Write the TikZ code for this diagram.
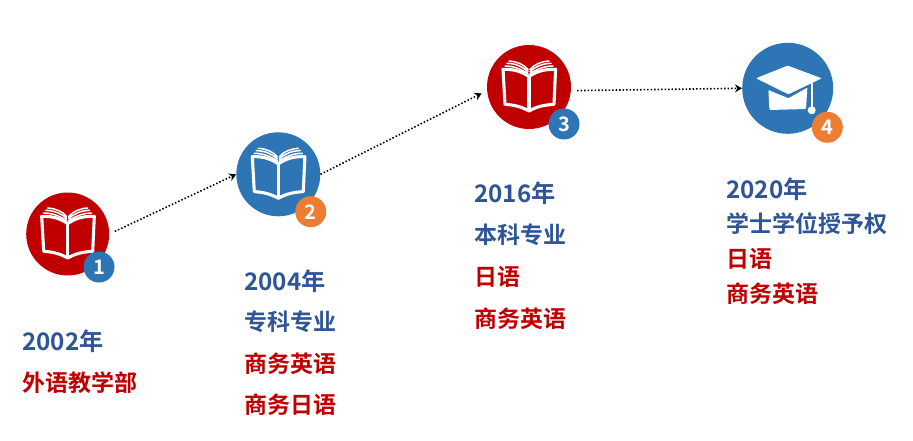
\documentclass[tikz,border=0pt]{standalone}
\usepackage{fontspec}
\setmainfont{Noto Sans CJK SC}[BoldFont={* Bold}]
\usetikzlibrary{arrows.meta}
\definecolor{stepblue}{HTML}{2E75B6}
\definecolor{stepred}{HTML}{C00000}
\definecolor{steporange}{HTML}{ED7D31}
\definecolor{yearblue}{HTML}{2F5597}
\tikzset{
  stepcircle/.style={circle,inner sep=0pt,minimum size=#1},
  badge/.style={circle,inner sep=0pt,minimum size=31pt,text=white,font=\fontsize{20}{20}\selectfont\bfseries},
  blueline/.style={anchor=west,inner sep=0pt,text=yearblue,font=\fontsize{23}{23}\selectfont\bfseries},
  yearline/.style={blueline,font=\fontsize{24.2}{24}\selectfont\bfseries},
  redline/.style={blueline,text=stepred},
  flow/.style={line width=1.6pt,dash pattern=on 1.5pt off 2pt,-{Stealth[length=7pt,width=8pt]}},
  bookicon/.pic={
    \draw[white,line width=3.1pt,line join=round]
      (-26,-17.7) .. controls (-14,-18) and (-7,-15) .. (0,-10.5)
      .. controls (7,-15) and (14,-18) .. (26.6,-17.7)
      -- (25,17.3) .. controls (14,18) and (7,20) .. (0,24)
      .. controls (-7,20) and (-14,18) .. (-24,17.3) -- cycle;
    \draw[white,line width=3.1pt] (0,-10.5) -- (0,24);
    \draw[white,line width=1.5pt,line cap=round]
      (-24,-21) .. controls (-14,-21) and (-7,-17) .. (-1,-13.5)
      (-22,-23.7) .. controls (-13,-23.5) and (-6,-20) .. (-1,-15.5)
      (-20,-26) .. controls (-12,-25.5) and (-5,-22.5) .. (-1,-17.5)
      (24,-21) .. controls (14,-21) and (7,-17) .. (1,-13.5)
      (22,-23.7) .. controls (13,-23.5) and (6,-20) .. (1,-15.5)
      (20,-26) .. controls (12,-25.5) and (5,-22.5) .. (1,-17.5);
  },
  capicon/.pic={
    \fill[white,rounded corners=1pt] (-31.7,-10) -- (0,-22.7) -- (34,-10) -- (0.7,6) -- cycle;
    \fill[white,rounded corners=1pt] (-19.3,1.7) -- (-18.3,21.7) -- (18.3,20.7) -- (19.7,-0.7) -- (0.7,10) -- cycle;
    \draw[white,line width=2.4pt] (24,-5) -- (24,20);
    \fill[white] (24,22) circle (4);
  }
}
\begin{document}
\begin{tikzpicture}[x=1pt,y=-1pt]
  \useasboundingbox (0,0) rectangle (913,441);
  % circles
  \node[stepcircle=83pt,fill=stepred] (c1) at (67.7,234) {};
  \node[stepcircle=84pt,fill=stepblue] (c2) at (278.3,174.3) {};
  \node[stepcircle=84pt,fill=stepred] (c3) at (529,87) {};
  \node[stepcircle=91pt,fill=stepblue] (c4) at (787.7,88.3) {};
  \pic at (c1) {bookicon};
  \pic at (c2) {bookicon};
  \pic at (c3) {bookicon};
  \pic at (c4) {capicon};
  % badges
  \node[badge,fill=stepblue] (b1) at (99,267) {1};
  \node[badge,fill=steporange] (b2) at (310.7,211.7) {2};
  \node[badge,fill=stepblue] (b3) at (564,124) {3};
  \node[badge,fill=steporange] (b4) at (827.3,127.3) {4};
  % arrows
  \draw[flow,shorten <=6pt] (c1.east) -- (c2.west);
  \draw[flow,shorten >=6pt] (c2.east) -- (c3.185);
  \draw[flow,shorten <=6pt] (c3.-5) -- (c4.west);
  % texts
  \node[yearline] (y1) at (22,341) {2002年};
  \node[redline] (t1a) at (22,383) {外语教学部};
  \node[yearline] (y2) at (244,281) {2004年};
  \node[blueline] (t2a) at (244,322) {专科专业};
  \node[redline] (t2b) at (244,364) {商务英语};
  \node[redline] (t2c) at (244,405) {商务日语};
  \node[yearline] (y3) at (474,193) {2016年};
  \node[blueline] (t3a) at (474,235) {本科专业};
  \node[redline] (t3b) at (474,277) {日语};
  \node[redline] (t3c) at (474,319) {商务英语};
  \node[yearline] (y4) at (726,189) {2020年};
  \node[blueline] (t4a) at (726,224) {学士学位授予权};
  \node[redline] (t4b) at (726,259) {日语};
  \node[redline] (t4c) at (726,294) {商务英语};
\end{tikzpicture}
\end{document}
